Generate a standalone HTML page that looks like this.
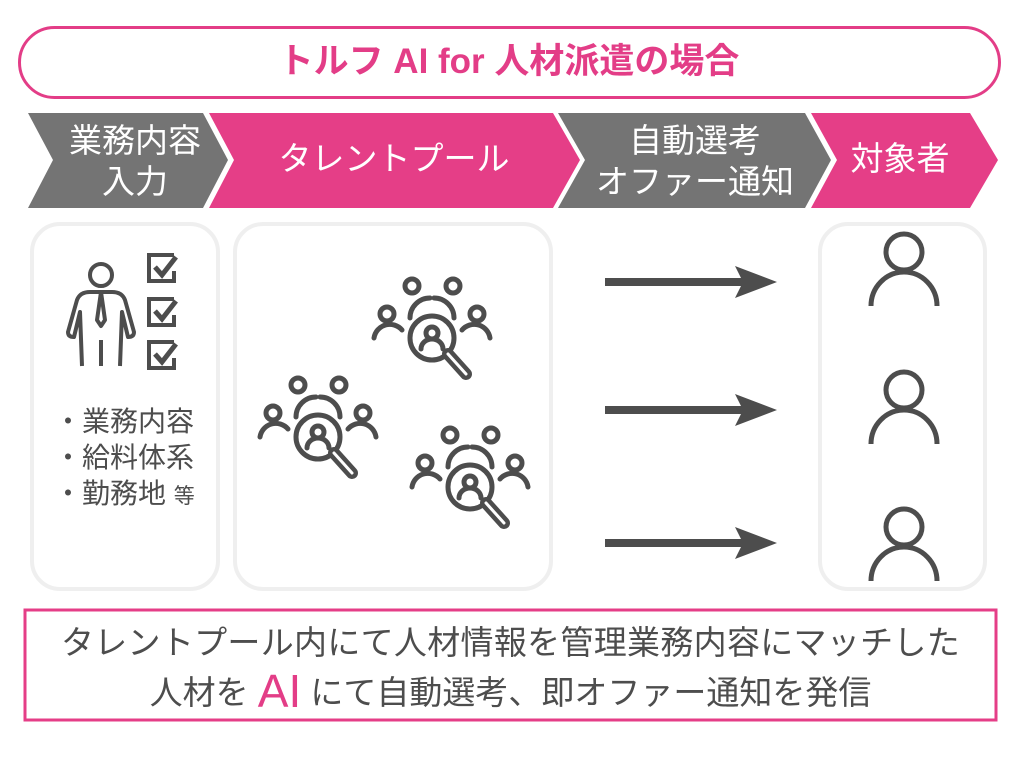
<!DOCTYPE html>
<html><head><meta charset="utf-8">
<style>
body{margin:0;width:1018px;height:757px;background:#fff;overflow:hidden;position:relative;font-family:"Liberation Sans","Noto Sans CJK JP",sans-serif}
.abs{position:absolute}
</style></head><body>
<svg class="abs" style="left:0;top:0" width="1018" height="757" viewBox="0 0 1018 757">
<defs>
<g id="grp" fill="none" stroke="#4d4d4d" stroke-width="5" stroke-linecap="round">
  <circle cx="0" cy="0" r="22"/>
  <line x1="16" y1="16" x2="34" y2="36" stroke-width="12"/>
  <line x1="16" y1="16" x2="34" y2="36" stroke="#fff" stroke-width="3"/>
  <circle cx="0" cy="-5" r="6"/>
  <path d="M-11 11 A11 10 0 0 1 11 11"/>
  <circle cx="-20" cy="-52" r="7"/>
  <circle cx="21" cy="-52" r="7"/>
  <circle cx="-45" cy="-24" r="7"/>
  <circle cx="45" cy="-24" r="7"/>
  <path d="M-22 -20 A20 20 0 0 1 -2 -40" />
  <path d="M22 -20 A20 20 0 0 0 2 -40" />
  <path d="M-58 0 A16 16 0 0 1 -30 -8"/>
  <path d="M58 0 A16 16 0 0 0 30 -8"/>
</g>
<g id="person" fill="none" stroke="#4d4d4d" stroke-width="5">
  <circle cx="0" cy="-18" r="18"/>
  <path d="M-33 36 A33 34 0 0 1 33 36"/>
</g>
<g id="arr"><rect x="0" y="-4" width="145" height="8" fill="#4d4d4d"/><polygon points="130,-16 172,0 130,16 138,0" fill="#4d4d4d"/></g>
<g id="chk" fill="none" stroke="#4d4d4d" stroke-width="4"><path d="M27 2 H2 V28 H27 V18"/><path d="M8 14 L15 22 L29 4" stroke-width="5"/></g>
</defs>
<rect x="19.5" y="27.5" width="980" height="70" rx="35" fill="#fff" stroke="#e33d87" stroke-width="3"/>
<polygon points="28,113 203,113 228,160 203,208 28,208 53,160" fill="#747474"/>
<polygon points="209,113 553,113 580,160 553,208 209,208 234,160" fill="#e53e87"/>
<polygon points="558,113 805,113 831,160 805,208 558,208 585,160" fill="#747474"/>
<polygon points="811,113 970,113 998,160 970,208 811,208 837,160" fill="#e53e87"/>
<rect x="32" y="224" width="186" height="365" rx="28" fill="#fff" stroke="#efefef" stroke-width="4"/>
<rect x="235" y="224" width="316" height="365" rx="28" fill="#fff" stroke="#efefef" stroke-width="4"/>
<rect x="820" y="224" width="165" height="365" rx="28" fill="#fff" stroke="#efefef" stroke-width="4"/>
<g fill="none" stroke="#4d4d4d" stroke-width="4" stroke-linejoin="round">
  <circle cx="101" cy="275" r="11"/>
  <path d="M90 292 Q80 292 77 300 L68 332 Q68 337 74 337 L80 312 L82 366 M112 292 Q122 292 125 300 L134 332 Q134 337 128 337 L122 312 L120 366"/>
  <path d="M90 292 H112 M101 292 L97 320 L101 326 L105 320 Z M101 340 V366"/>
</g>
<use href="#chk" x="147" y="253"/>
<use href="#chk" x="147" y="297"/>
<use href="#chk" x="147" y="340"/>
<use href="#grp" x="432" y="338"/>
<use href="#grp" x="318" y="437"/>
<use href="#grp" x="470" y="487"/>
<use href="#arr" x="605" y="282"/>
<use href="#arr" x="605" y="410"/>
<use href="#arr" x="605" y="543"/>
<use href="#person" x="904" y="270"/>
<use href="#person" x="904" y="408"/>
<use href="#person" x="904" y="545"/>
<rect x="25" y="610" width="971" height="110" fill="#fff" stroke="#e53e87" stroke-width="3"/>
</svg>
<div class="abs" style="left:19px;top:42px;width:980px;text-align:center;color:#e33d87;font-size:35px;font-weight:bold;line-height:40px">トルフ AI for 人材派遣の場合</div>
<div class="abs" style="left:40px;top:120px;width:190px;text-align:center;color:#fff;font-size:33px;line-height:41px">業務内容<br>入力</div>
<div class="abs" style="left:234px;top:139px;width:320px;text-align:center;color:#fff;font-size:33px;line-height:40px">タレントプール</div>
<div class="abs" style="left:575px;top:120px;width:240px;text-align:center;color:#fff;font-size:33px;line-height:41px">自動選考<br>オファー通知</div>
<div class="abs" style="left:830px;top:139px;width:140px;text-align:center;color:#fff;font-size:33px;line-height:40px">対象者</div>
<div class="abs" style="left:54px;top:404px;color:#4d4d4d;font-size:28px;line-height:36px">・業務内容<br>・給料体系<br>・勤務地 <span style="font-size:21px">等</span></div>
<div class="abs" style="left:25px;top:620px;width:971px;text-align:center;color:#4d4d4d;font-size:33px;line-height:46px;letter-spacing:0.3px">タレントプール内にて人材情報を管理業務内容にマッチした</div>
<div class="abs" style="left:25px;top:666px;width:971px;text-align:center;color:#4d4d4d;font-size:33px;line-height:50px">人材を <span style="color:#e33d87;font-size:46px;vertical-align:-3px">AI</span> にて自動選考、即オファー通知を発信</div>
</body></html>
